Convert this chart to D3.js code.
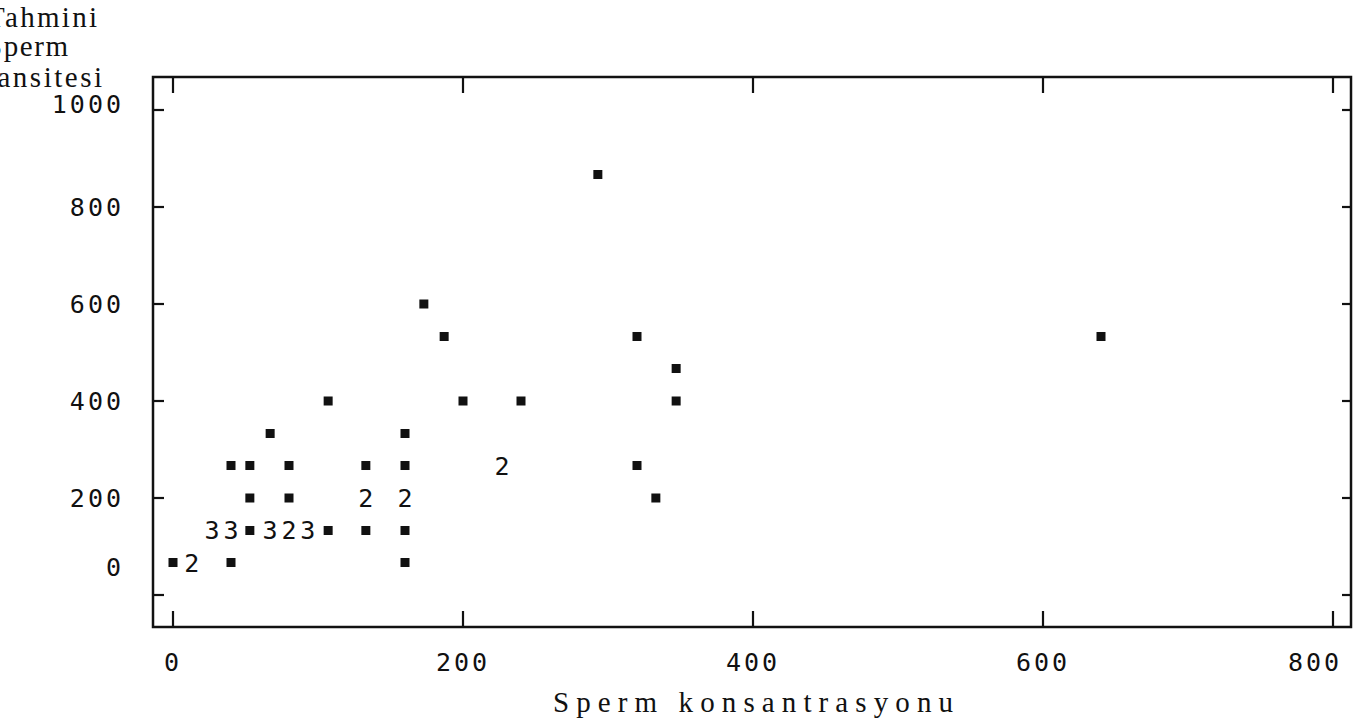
<!DOCTYPE html>
<html lang="tr">
<head>
<meta charset="UTF-8">
<title>Sperm konsantrasyonu / Tahmini sperm dansitesi</title>
<script src="https://cdn.jsdelivr.net/npm/d3@7/dist/d3.min.js"></script>
<style>
  * { margin: 0; padding: 0; }
  body { background: #fff; overflow: hidden; }
  svg { display: block; }
  .tick-label { font-family: 'DejaVu Sans Mono', monospace; font-size: 25px; fill: #111; letter-spacing: 3px; }
  .count { font-family: 'DejaVu Sans Mono', monospace; font-size: 25px; fill: #111; }
  .title { font-family: 'Liberation Serif', 'DejaVu Serif', serif; font-size: 29px; fill: #111; }
</style>
</head>
<body>
<svg width="1364" height="727"></svg>
<script>
// --- data ---
// x: sperm konsantrasyonu, y: tahmini sperm dansitesi, n: overlapping points (1 = square, >1 = digit)
const concX = [0, 13, 40, 160,
  27, 40, 53, 67, 80, 93, 107, 133, 160,
  53, 80, 133, 160, 333,
  40, 53, 80, 133, 160, 227, 320,
  67, 160,
  107, 200, 240, 347,
  347,
  187, 320, 640,
  173,
  293];
const densY = [67, 67, 67, 67,
  133, 133, 133, 133, 133, 133, 133, 133, 133,
  200, 200, 200, 200, 200,
  267, 267, 267, 267, 267, 267, 267,
  333, 333,
  400, 400, 400, 400,
  467,
  533, 533, 533,
  600,
  867];
const counts = [1, 2, 1, 1,
  3, 3, 1, 3, 2, 3, 1, 1, 1,
  1, 1, 2, 2, 1,
  1, 1, 1, 1, 1, 2, 1,
  1, 1,
  1, 1, 1, 1,
  1,
  1, 1, 1,
  1,
  1];

const xTicks = [0, 200, 400, 600, 800];
const yTicks = [0, 200, 400, 600, 800, 1000];
const yTitleLines = ['Tahmini', 'Sperm', 'Dansitesi'];
const xTitle = 'Sperm konsantrasyonu';

const points = concX.map((x, i) => ({ x, y: densY[i], n: counts[i] }));

// frame and scales (pixel geometry of the scan)
const frame = { left: 153, top: 77, right: 1351, bottom: 627 };
const x = d3.scaleLinear().domain([0, 800]).range([173, 1333]);
const y = d3.scaleLinear().domain([0, 1000]).range([595, 110]);

const svg = d3.select('svg');
const ink = '#111';

svg.append('rect')
  .attr('x', frame.left).attr('y', frame.top)
  .attr('width', frame.right - frame.left).attr('height', frame.bottom - frame.top)
  .attr('fill', 'none').attr('stroke', ink).attr('stroke-width', 2.5);

// tick marks on all four sides, pointing inward
const tk = svg.append('g').attr('stroke', ink).attr('stroke-width', 2.2);
xTicks.forEach(v => {
  tk.append('line').attr('x1', x(v)).attr('x2', x(v)).attr('y1', frame.bottom).attr('y2', frame.bottom - 16);
  tk.append('line').attr('x1', x(v)).attr('x2', x(v)).attr('y1', frame.top).attr('y2', frame.top + 16);
});
yTicks.forEach(v => {
  tk.append('line').attr('x1', frame.left).attr('x2', frame.left + 11).attr('y1', y(v)).attr('y2', y(v));
  tk.append('line').attr('x1', frame.right).attr('x2', frame.right - 9).attr('y1', y(v)).attr('y2', y(v));
});

// tick labels (a few sit off their tick in the original print)
const yNudge = { 0: -28, 1000: -6 };
const xNudge = { 800: -18 };
svg.append('g').selectAll('text').data(yTicks).enter().append('text')
  .attr('class', 'tick-label')
  .attr('x', 124)
  .attr('y', d => y(d) + (yNudge[d] || 0) + 9)
  .attr('text-anchor', 'end')
  .text(d => d);
svg.append('g').selectAll('text').data(xTicks).enter().append('text')
  .attr('class', 'tick-label')
  .attr('x', d => x(d) + (xNudge[d] || 0))
  .attr('y', 671)
  .attr('text-anchor', 'middle')
  .text(d => d);

// marks: squares for single points, digits for coincident ones
const sq = 9;
svg.append('g').selectAll('rect')
  .data(points.filter(p => p.n === 1)).enter().append('rect')
  .attr('x', d => x(d.x) - sq / 2).attr('y', d => y(d.y) - sq / 2)
  .attr('width', sq).attr('height', sq)
  .attr('fill', ink);
svg.append('g').selectAll('text')
  .data(points.filter(p => p.n > 1)).enter().append('text')
  .attr('class', 'count')
  .attr('x', d => x(d.x)).attr('y', d => y(d.y) + 9)
  .attr('text-anchor', 'middle')
  .text(d => d.n);

// axis titles
const yTitlePos = [{ end: 97, base: 27, len: 110 }, { end: 68, base: 56, len: 82 }, { end: 102, base: 87, len: 128 }];
yTitleLines.forEach((t, i) => {
  const p = yTitlePos[i];
  svg.append('text').attr('class', 'title')
    .attr('x', p.end - p.len).attr('y', p.base)
    .attr('textLength', p.len).attr('lengthAdjust', 'spacing')
    .text(t);
});
svg.append('text').attr('class', 'title')
  .attr('x', 553).attr('y', 712)
  .attr('textLength', 400).attr('lengthAdjust', 'spacing')
  .text(xTitle);
</script>
</body>
</html>
